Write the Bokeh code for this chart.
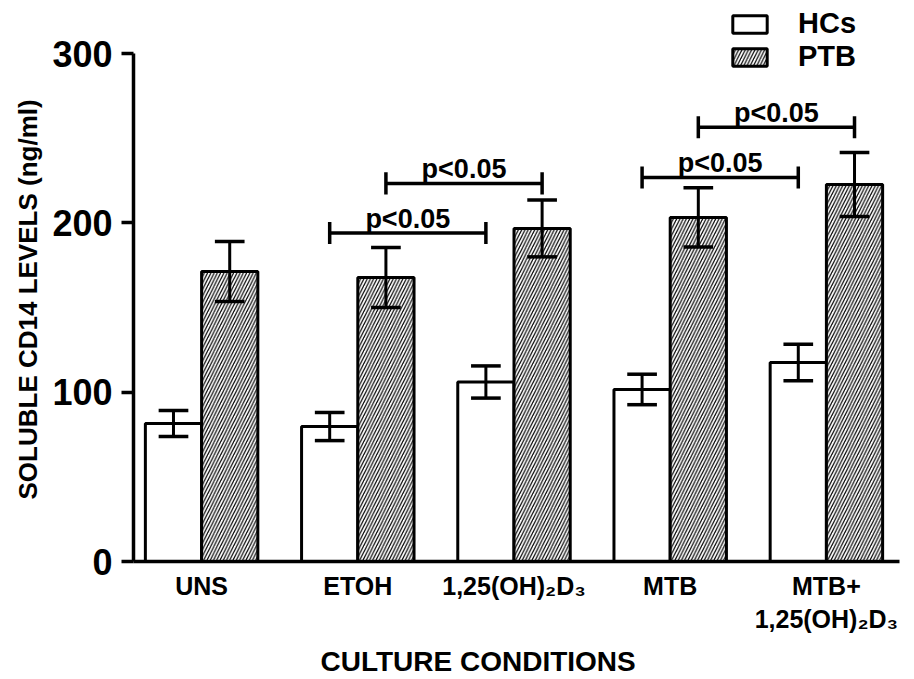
import numpy as np
from bokeh.plotting import figure
from bokeh.models import (FixedTicker, Title, Range1d, Legend, LegendItem)
from bokeh.core.properties import value
from bokeh.embed import file_html
from bokeh.resources import INLINE

# ---------------- data ----------------
conditions = ["UNS", "ETOH", "1,25(OH)\u2082D\u2083", "MTB", "MTB+\n1,25(OH)\u2082D\u2083"]
hcs_mean = [81.5, 79.7, 106.0, 101.6, 117.5]
hcs_err = [7.7, 8.3, 9.5, 9.0, 10.8]
ptb_mean = [171.3, 167.7, 196.7, 203.2, 222.7]
ptb_err = [17.7, 17.7, 16.8, 17.5, 18.9]
y_ticks = [0, 100, 200, 300]

# significance brackets: (from group, to group, series, height, text)
br_from = [1, 1, 3, 3]
br_to = [2, 2, 4, 4]
br_series = ["HCs", "PTB", "HCs", "PTB"]
br_y = [194.0, 223.3, 226.8, 256.4]
br_text = ["p<0.05", "p<0.05", "p<0.05", "p<0.05"]

FONT = "Liberation Sans"
BAR_W = 0.36
OFFS = {"HCs": -BAR_W / 2, "PTB": BAR_W / 2}
CAP = 0.095
BR_TICK = 6.5
TXT_GAP = 8.5
Y_MAX = 300
PX_PER_UNIT = 508 / Y_MAX
FRAME_H = 561

idx = np.arange(len(conditions))
hc_x = idx + OFFS["HCs"]
ptb_x = idx + OFFS["PTB"]

p = figure(frame_width=766, frame_height=FRAME_H,
           x_range=Range1d(-0.436, 4.468),
           y_range=Range1d(0, FRAME_H / PX_PER_UNIT),
           output_backend="svg", toolbar_location=None, title_location=None,
           min_border_left=133, min_border_right=15, min_border_top=0,
           min_border_bottom=118)
p.xgrid.visible = False
p.ygrid.visible = False
p.outline_line_color = None
p.background_fill_color = "white"

# bars
r_hc = p.vbar(x=hc_x, top=hcs_mean, bottom=0, width=BAR_W, fill_color="white",
              line_color="black", line_width=3)
r_ptb = p.vbar(x=ptb_x, top=ptb_mean, bottom=0, width=BAR_W, fill_color="white",
               line_color="black", line_width=3, hatch_pattern="/",
               hatch_color="black", hatch_scale=6.5, hatch_weight=1.2)

# error bars
for xs, m, e in ((hc_x, hcs_mean, hcs_err), (ptb_x, ptb_mean, ptb_err)):
    m = np.array(m); e = np.array(e)
    p.segment(x0=xs, x1=xs, y0=m - e, y1=m + e, line_color="black", line_width=3)
    p.segment(x0=xs - CAP, x1=xs + CAP, y0=m + e, y1=m + e, line_color="black", line_width=3.5)
    p.segment(x0=xs - CAP, x1=xs + CAP, y0=m - e, y1=m - e, line_color="black", line_width=3.5)

# significance brackets
bx0 = np.array([f + OFFS[s] for f, s in zip(br_from, br_series)])
bx1 = np.array([t + OFFS[s] for t, s in zip(br_to, br_series)])
by = np.array(br_y)
p.segment(x0=bx0, x1=bx1, y0=by, y1=by, line_color="black", line_width=3.5)
p.segment(x0=bx0, x1=bx0, y0=by - BR_TICK, y1=by + BR_TICK, line_color="black", line_width=3.5)
p.segment(x0=bx1, x1=bx1, y0=by - BR_TICK, y1=by + BR_TICK, line_color="black", line_width=3.5)
p.text(x=(bx0 + bx1) / 2, y=by + TXT_GAP, text=br_text, text_align="center",
       text_baseline="alphabetic", text_font=value(FONT),
       text_font_style="bold", text_font_size="27px", text_color="black")

# axes
for ax in (p.xaxis[0], p.yaxis[0]):
    ax.axis_line_width = 3.5
    ax.axis_line_color = "black"
    ax.major_tick_line_width = 3.5
    ax.major_tick_line_color = "black"
    ax.minor_tick_line_color = None
    ax.major_label_text_font = FONT
    ax.major_label_text_font_style = "bold"
    ax.major_label_text_color = "black"

p.xaxis.ticker = FixedTicker(ticks=list(idx))
p.xaxis.major_label_overrides = {int(i): c for i, c in zip(idx, conditions)}
p.xaxis.major_tick_out = 0
p.xaxis.major_tick_in = 0
p.xaxis.major_label_text_font_size = "25px"
p.xaxis.major_label_standoff = 10

p.yaxis.ticker = FixedTicker(ticks=y_ticks)
p.yaxis.bounds = (0, Y_MAX)
p.yaxis.major_tick_out = 12
p.yaxis.major_tick_in = 0
p.yaxis.major_label_text_font_size = "36px"
p.yaxis.major_label_standoff = 9

p.add_layout(Title(text="CULTURE CONDITIONS", align="left", offset=187,
                   text_font_size="28px", text_font=FONT, text_font_style="bold",
                   text_color="black", standoff=14), "below")
p.add_layout(Title(text="SOLUBLE CD14 LEVELS (ng/ml)", align="left", offset=62,
                   text_font_size="26px", text_font=FONT, text_font_style="bold",
                   text_color="black", standoff=14), "left")

legend = Legend(items=[LegendItem(label="HCs", renderers=[r_hc]),
                       LegendItem(label="PTB", renderers=[r_ptb])],
                location=(595, 488), glyph_width=43, glyph_height=22,
                label_height=22, label_standoff=27, spacing=0, padding=0,
                margin=0, border_line_color=None, background_fill_alpha=0,
                label_text_font=FONT, label_text_font_style="bold",
                label_text_color="black",
                label_text_font_size="29px", label_text_baseline="middle")
p.add_layout(legend)

open("out.html", "w").write(file_html(p, INLINE))
